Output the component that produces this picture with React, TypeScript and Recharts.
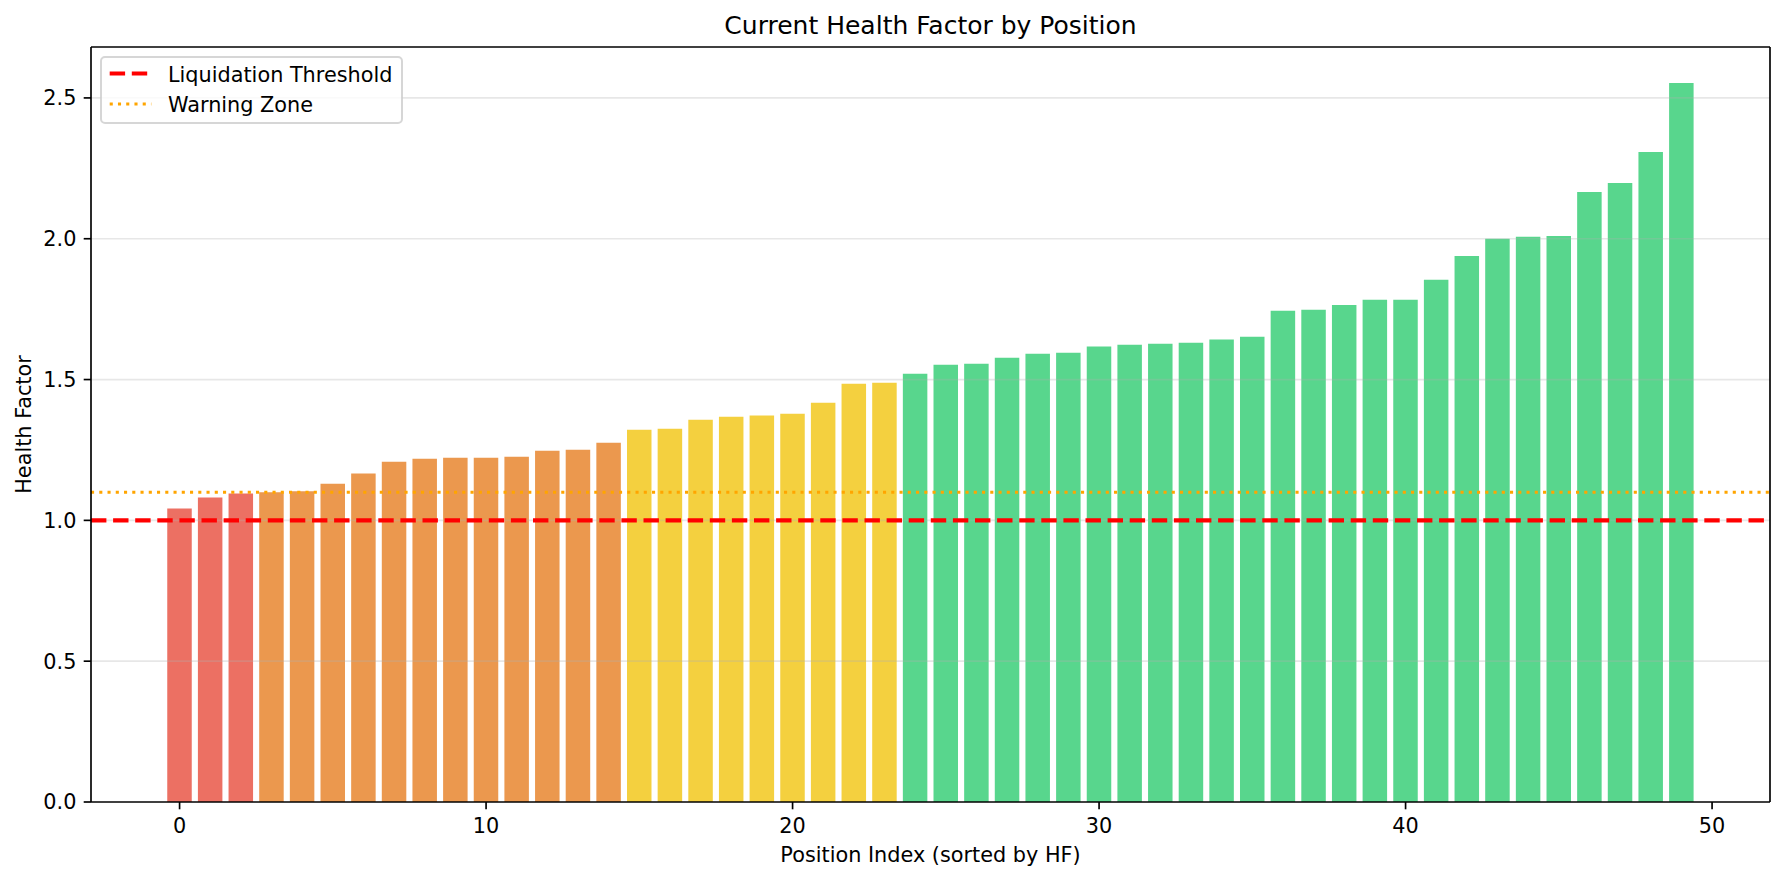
import React from 'react';
import { BarChart, Bar, XAxis, YAxis, Cell, ReferenceLine } from 'recharts';

// positions sorted by health factor
const positionIndex = [
  0, 1, 2, 3, 4, 5, 6, 7, 8, 9, 10, 11, 12, 13, 14, 15, 16, 17, 18, 19, 20, 21, 22, 23, 24,
  25, 26, 27, 28, 29, 30, 31, 32, 33, 34, 35, 36, 37, 38, 39, 40, 41, 42, 43, 44, 45, 46, 47, 48, 49,
];
const healthFactor = [
  1.042, 1.081, 1.095, 1.1, 1.103, 1.13, 1.166, 1.208, 1.219, 1.222,
  1.222, 1.226, 1.247, 1.251, 1.276, 1.322, 1.325, 1.357, 1.368, 1.372,
  1.379, 1.418, 1.485, 1.489, 1.521, 1.553, 1.556, 1.577, 1.592, 1.595,
  1.617, 1.624, 1.627, 1.631, 1.642, 1.652, 1.744, 1.748, 1.765, 1.783,
  1.783, 1.854, 1.939, 2.0, 2.007, 2.01, 2.166, 2.198, 2.308, 2.553,
];
const xTicks = [0, 10, 20, 30, 40, 50];
const yTicks = [0, 0.5, 1.0, 1.5, 2.0, 2.5];
const xDomain: [number, number] = [-2.89, 51.89];
const yDomain: [number, number] = [0, 2.6808];
const liquidationThreshold = 1.0;
const warningZone = 1.1;

const data = positionIndex.map((idx, i) => ({ idx, hf: healthFactor[i] }));

const colorFor = (hf: number) => {
  if (hf < 1.1) return '#e74c3c';
  if (hf < 1.3) return '#e67e22';
  if (hf < 1.5) return '#f1c40f';
  return '#2ecc71';
};

const FONT = 'DejaVu Sans, sans-serif';
const FS = 20.8;
const LW = 1.67;

const tickStyle = { fill: '#000', fontSize: FS, fontFamily: FONT };

export default function App() {
  return (
    <div style={{ position: 'absolute', left: 0, top: 0, width: 1784, height: 881, fontFamily: FONT, background: '#fff' }}>
      <BarChart
        width={1784}
        height={881}
        data={data}
        margin={{ top: 47, right: 14, bottom: 19, left: 31 }}
      >
        <XAxis
          dataKey="idx"
          type="number"
          domain={xDomain}
          ticks={xTicks}
          allowDataOverflow
          height={60}
          tick={tickStyle}
          tickSize={7.3}
          tickMargin={8.5}
          tickLine={{ stroke: '#000', strokeWidth: LW }}
          axisLine={{ stroke: '#000', strokeWidth: LW }}
          label={{
            content: ({ viewBox }: any) => (
              <text
                x={viewBox.x + viewBox.width / 2}
                y={viewBox.y + 59.5}
                textAnchor="middle"
                fontSize={FS}
                fontFamily={FONT}
                fill="#000"
              >
                Position Index (sorted by HF)
              </text>
            ),
          }}
        />
        <YAxis
          type="number"
          domain={yDomain}
          ticks={yTicks}
          allowDataOverflow
          width={60}
          tick={tickStyle}
          tickFormatter={(v: number) => v.toFixed(1)}
          tickSize={7.3}
          tickMargin={7.3}
          tickLine={{ stroke: '#000', strokeWidth: LW }}
          axisLine={{ stroke: '#000', strokeWidth: LW }}
          label={{
            content: ({ viewBox }: any) => {
              const x = viewBox.x - 0.4;
              const y = viewBox.y + viewBox.height / 2;
              return (
                <text
                  x={x}
                  y={y}
                  transform={`rotate(-90, ${x}, ${y})`}
                  textAnchor="middle"
                  fontSize={FS}
                  fontFamily={FONT}
                  fill="#000"
                >
                  Health Factor
                </text>
              );
            },
          }}
        />
        <Bar dataKey="hf" barSize={24.5} isAnimationActive={false}>
          {data.map((d) => (
            <Cell key={d.idx} fill={colorFor(d.hf)} fillOpacity={0.8} />
          ))}
        </Bar>
        {yTicks.slice(1).map((t) => (
          <ReferenceLine key={t} y={t} stroke="#b0b0b0" strokeOpacity={0.3} strokeWidth={LW} />
        ))}
        <ReferenceLine y={liquidationThreshold} stroke="#ff0000" strokeWidth={4.17} strokeDasharray="15.4 6.7" />
        <ReferenceLine y={warningZone} stroke="#ffa500" strokeWidth={3.1} strokeDasharray="3.1 5.15" />
        {/* top and right spines */}
        <ReferenceLine y={yDomain[1]} stroke="#000" strokeWidth={LW} />
        <ReferenceLine x={xDomain[1]} stroke="#000" strokeWidth={LW} />
      </BarChart>

      <svg
        width={1784}
        height={881}
        style={{ position: 'absolute', left: 0, top: 0, pointerEvents: 'none' }}
      >
        <text x={930.5} y={34} textAnchor="middle" fontSize={25} fontFamily={FONT} fill="#000">
          Current Health Factor by Position
        </text>
        <rect
          x={101}
          y={57}
          width={301}
          height={66}
          rx={4}
          fill="#fff"
          fillOpacity={0.8}
          stroke="#cccccc"
          strokeOpacity={0.8}
          strokeWidth={2}
        />
        <line x1={109.7} x2={151.3} y1={73.5} y2={73.5} stroke="#ff0000" strokeWidth={4.17} strokeDasharray="15.4 6.7" />
        <text x={168} y={81.7} fontSize={FS} fontFamily={FONT} fill="#000">
          Liquidation Threshold
        </text>
        <line x1={109.7} x2={151.3} y1={104} y2={104} stroke="#ffa500" strokeWidth={3.1} strokeDasharray="3.1 5.15" />
        <text x={168} y={111.7} fontSize={FS} fontFamily={FONT} fill="#000">
          Warning Zone
        </text>
      </svg>
    </div>
  );
}
